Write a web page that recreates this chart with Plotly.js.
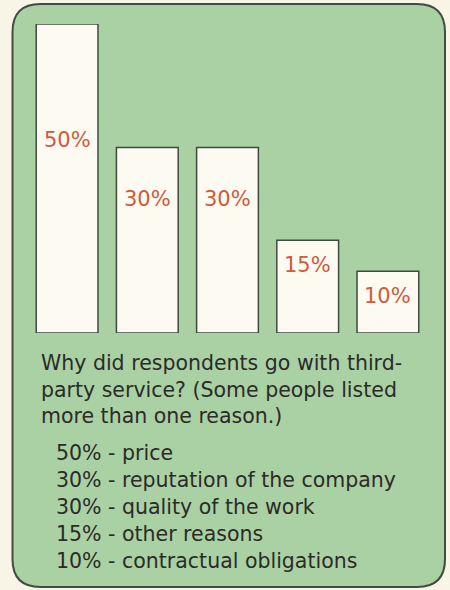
<!DOCTYPE html>
<html><head><meta charset="utf-8">
<script src="https://cdn.plot.ly/plotly-3.0.1.min.js"></script>
<style>html,body{margin:0;padding:0;background:#f8f4e6;}#chart{width:450px;height:590px;}</style>
</head><body><div id="chart"></div>
<script>
const categories = ['price', 'reputation of the company', 'quality of the work', 'other reasons', 'contractual obligations'];
const values = [50, 30, 30, 15, 10];
const valueLabels = ['50%', '30%', '30%', '15%', '10%'];
const questionLines = ['Why did respondents go with third-', 'party service? (Some people listed', 'more than one reason.)'];

// layout constants (pixels)
const W = 450, H = 590, L = 27, R = 22, T = 24, B = 257;
const PW = W - L - R, PH = H - T - B;
const px = x => (x - L) / PW;
const py = y => (H - B - y) / PH;
const labelDrop = [116, 51, 51, 25, 25];
const FAMILY = 'DejaVu Sans, Verdana, sans-serif';

const bar = {
  type: 'bar', x: categories.map((c, i) => i), y: values,
  width: 0.77,
  marker: {color: '#fdfbf1', line: {color: '#3f4a3f', width: 1.5}},
  hoverinfo: 'skip', textposition: 'none'
};

const ann = [];
values.forEach((v, i) => {
  ann.push({x: i, y: v, xref: 'x', yref: 'y', text: valueLabels[i], showarrow: false,
    yanchor: 'middle', xanchor: 'center', yshift: -labelDrop[i],
    font: {family: FAMILY, size: 21, color: '#cf5a3c'}});
});
const textFont = {family: FAMILY, size: 20.5, color: '#2b2b28'};
const qY = [363, 389.5, 415.5];
questionLines.forEach((t, i) => {
  ann.push({x: px(39), y: py(qY[i]), xref: 'paper', yref: 'paper', text: t, showarrow: false,
    xanchor: 'left', yanchor: 'middle', font: textFont});
});
const lY = [453, 480, 507, 534, 561];
categories.forEach((c, i) => {
  ann.push({x: px(54), y: py(lY[i]), xref: 'paper', yref: 'paper', text: valueLabels[i] + ' - ' + c,
    showarrow: false, xanchor: 'left', yanchor: 'middle', font: textFont});
});

// rounded panel
const x0 = 12.5, x1 = 445, y0 = 4, y1 = 587, r = 28;
const P = (x, y) => px(x) + ',' + py(y);
const path = 'M' + P(x0 + r, y0) + ' L' + P(x1 - r, y0) + ' Q' + P(x1, y0) + ' ' + P(x1, y0 + r) +
  ' L' + P(x1, y1 - r) + ' Q' + P(x1, y1) + ' ' + P(x1 - r, y1) +
  ' L' + P(x0 + r, y1) + ' Q' + P(x0, y1) + ' ' + P(x0, y1 - r) +
  ' L' + P(x0, y0 + r) + ' Q' + P(x0, y0) + ' ' + P(x0 + r, y0) + ' Z';

const layout = {
  width: W, height: H, margin: {l: L, r: R, t: T, b: B, pad: 0},
  paper_bgcolor: '#f8f4e6', plot_bgcolor: 'rgba(0,0,0,0)',
  showlegend: false,
  xaxis: {range: [-0.5, 4.5], visible: false, fixedrange: true},
  yaxis: {range: [0, 50], visible: false, fixedrange: true},
  shapes: [{type: 'path', xref: 'paper', yref: 'paper', path: path, layer: 'below',
    fillcolor: '#aad1a3', line: {color: '#454a42', width: 2}}],
  annotations: ann
};
Plotly.newPlot('chart', [bar], layout, {displayModeBar: false, staticPlot: true});
</script></body></html>
